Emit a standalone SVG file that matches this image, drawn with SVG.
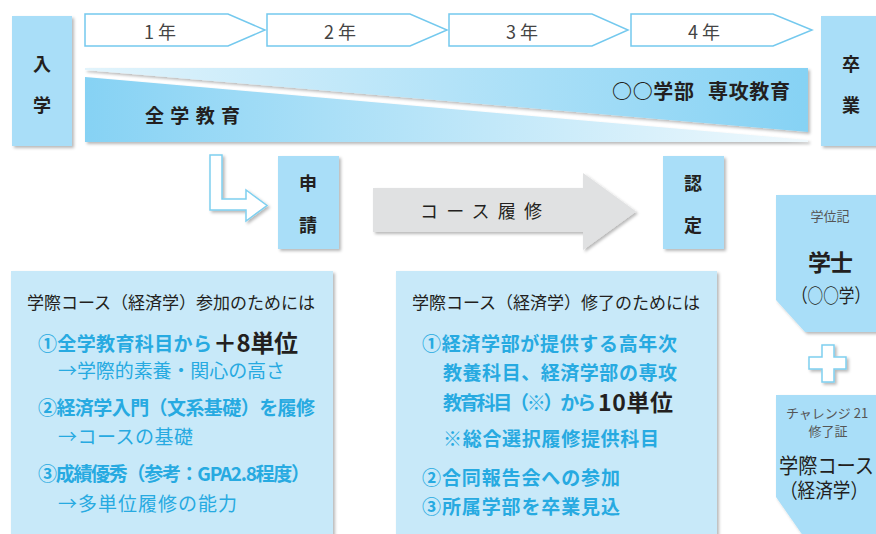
<svg xmlns="http://www.w3.org/2000/svg" width="876" height="534" viewBox="0 0 876 534">
<defs>
<filter id="sh" x="-10%" y="-10%" width="130%" height="130%">
<feDropShadow dx="2" dy="2" stdDeviation="1.5" flood-color="#000" flood-opacity="0.28"/>
</filter>
<linearGradient id="gUp" x1="0" y1="0" x2="1" y2="0">
<stop offset="0" stop-color="#e2f4fc"/>
<stop offset="1" stop-color="#86d2f4"/>
</linearGradient>
<linearGradient id="gLo" x1="0" y1="0" x2="1" y2="0">
<stop offset="0" stop-color="#86d2f4"/>
<stop offset="1" stop-color="#f0f9fd"/>
</linearGradient>
<style>
text{font-family:"Noto Sans CJK JP","Noto Sans",sans-serif;}
.node{fill:#a9def8;filter:url(#sh);}
.panel{fill:#c8e9f9;filter:url(#sh);}
.yr{fill:#fff;stroke:#74c9ee;stroke-width:1.5;}
.yt{font-size:18px;fill:#444;text-anchor:middle;}
.nt{font-size:18px;font-weight:700;fill:#231f20;text-anchor:middle;}
.hd{font-size:17px;fill:#231f20;}
.it{font-size:19px;font-weight:700;fill:#27aae1;}
.sub{font-size:19px;fill:#27aae1;}
.big{font-weight:700;fill:#231f20;}
.p{font-feature-settings:"palt";}
.out{fill:#fff;stroke:#7fd0f0;stroke-width:1.5;}
</style>
</defs>

<g id="connectors">
<g id="year1"><polygon class="yr" points="85,14 228,14 265,30 228,46 85,46"/><text class="yt" x="160" y="39">1 年</text></g>
<g id="year2"><polygon class="yr" points="267,14 410,14 447,30 410,46 267,46"/><text class="yt" x="340" y="39">2 年</text></g>
<g id="year3"><polygon class="yr" points="449,14 592,14 628,30 592,46 449,46"/><text class="yt" x="522" y="39">3 年</text></g>
<g id="year4"><polygon class="yr" points="631,14 773,14 812,30 773,46 631,46"/><text class="yt" x="704" y="39">4 年</text></g>
<polygon id="l-arrow" class="out" filter="url(#sh)" points="210,155 222,155 222,199 246,199 246,190 267,205.5 246,221 246,210 210,210"/>
<g id="course-arrow">
<polygon fill="#e0e1e2" filter="url(#sh)" points="373,188 583,188 583,173 636,211.5 583,250 583,232 373,232"/>
<text x="420" y="218" font-size="18" fill="#231f20" textLength="122" lengthAdjust="spacing">コース履修</text>
</g>
<polygon id="plus" class="out" filter="url(#sh)" points="822,345 834,345 834,357 846,357 846,369 834,369 834,382 822,382 822,369 809,369 809,357 822,357"/>
</g>

<g id="band">
<polygon fill="url(#gLo)" filter="url(#sh)" points="85,77 808,140 808,142 85,142"/>
<polygon fill="url(#gUp)" filter="url(#sh)" points="85,68 808,68 808,132 85,70"/>
<text x="145" y="123" font-size="19" font-weight="700" fill="#231f20" textLength="95" lengthAdjust="spacing">全学教育</text>
<text x="612" y="99" font-size="20" font-weight="700" fill="#231f20" textLength="178" lengthAdjust="spacing">○○学部<tspan dx="8"> </tspan>専攻教育</text>
</g>

<g id="nyugaku"><rect class="node" x="12" y="16" width="60" height="130"/>
<text class="nt" x="42" y="71">入</text><text class="nt" x="42" y="112">学</text></g>
<g id="sotsugyo"><rect class="node" x="821" y="16" width="60" height="130"/>
<text class="nt" x="851" y="71">卒</text><text class="nt" x="851" y="112">業</text></g>
<g id="shinsei"><rect class="node" x="278" y="156" width="61" height="93"/>
<text class="nt" x="308" y="190">申</text><text class="nt" x="308" y="232">請</text></g>
<g id="nintei"><rect class="node" x="663" y="156" width="61" height="93"/>
<text class="nt" x="693" y="190">認</text><text class="nt" x="693" y="232">定</text></g>

<g id="gakui">
<polygon class="node" points="776,195 880,195 880,332 805,332 776,300"/>
<text x="830" y="221" font-size="13" fill="#555" text-anchor="middle">学位記</text>
<text x="808" y="271" font-size="23" font-weight="700" fill="#231f20" textLength="45" lengthAdjust="spacing">学士</text>
<text x="792" y="303" font-size="19" fill="#231f20" textLength="78" lengthAdjust="spacingAndGlyphs">（○○学）</text>
</g>

<g id="challenge">
<polygon class="node" points="776,395 880,395 880,540 806,540 776,497"/>
<text x="827" y="418" font-size="13" fill="#555" text-anchor="middle">チャレンジ 21</text>
<text x="828" y="436" font-size="13" fill="#555" text-anchor="middle">修了証</text>
<text x="779" y="473" font-size="21" fill="#231f20" textLength="95" lengthAdjust="spacingAndGlyphs">学際コース</text>
<text x="780" y="498" font-size="20" fill="#231f20" textLength="88" lengthAdjust="spacingAndGlyphs">（経済学）</text>
</g>

<g id="join-panel">
<rect class="panel" x="11" y="271" width="322" height="270"/>
<text class="hd" x="27" y="309" textLength="288" lengthAdjust="spacing">学際コース（経済学）参加のためには</text>
<text class="it" x="38" y="351" textLength="174" lengthAdjust="spacing">①全学教育科目から</text>
<text class="big" x="213" y="352" font-size="24" textLength="85" lengthAdjust="spacing">＋8単位</text>
<text class="sub" x="58" y="378" textLength="227" lengthAdjust="spacing">→学際的素養・関心の高さ</text>
<text class="it" x="38" y="415" textLength="277" lengthAdjust="spacing">②経済学入門（文系基礎）を履修</text>
<text class="sub" x="58" y="444" textLength="135" lengthAdjust="spacing">→コースの基礎</text>
<text class="it" x="38" y="481" textLength="272" lengthAdjust="spacing">③成績優秀（参考：GPA2.8程度）</text>
<text class="sub" x="58" y="511" textLength="179" lengthAdjust="spacing">→多単位履修の能力</text>
</g>

<g id="finish-panel">
<rect class="panel" x="396" y="271" width="321" height="270"/>
<text class="hd" x="412" y="309" textLength="288" lengthAdjust="spacing">学際コース（経済学）修了のためには</text>
<text class="it" x="422" y="351" font-size="19.5" textLength="255" lengthAdjust="spacing">①経済学部が提供する高年次</text>
<text class="it" x="443" y="380" font-size="19.5" textLength="234" lengthAdjust="spacing">教養科目、経済学部の専攻</text>
<text class="it" x="443" y="410" font-size="19.5" textLength="153" lengthAdjust="spacing">教育科目（※）から</text>
<text class="big" x="598" y="411" font-size="23" textLength="75" lengthAdjust="spacing">10単位</text>
<text class="it" x="443" y="446" font-size="18.5" textLength="216" lengthAdjust="spacing">※総合選択履修提供科目</text>
<text class="it" x="422" y="485" font-size="19.5" textLength="198" lengthAdjust="spacing">②合同報告会への参加</text>
<text class="it" x="422" y="514" font-size="19.5" textLength="198" lengthAdjust="spacing">③所属学部を卒業見込</text>
</g>
</svg>
